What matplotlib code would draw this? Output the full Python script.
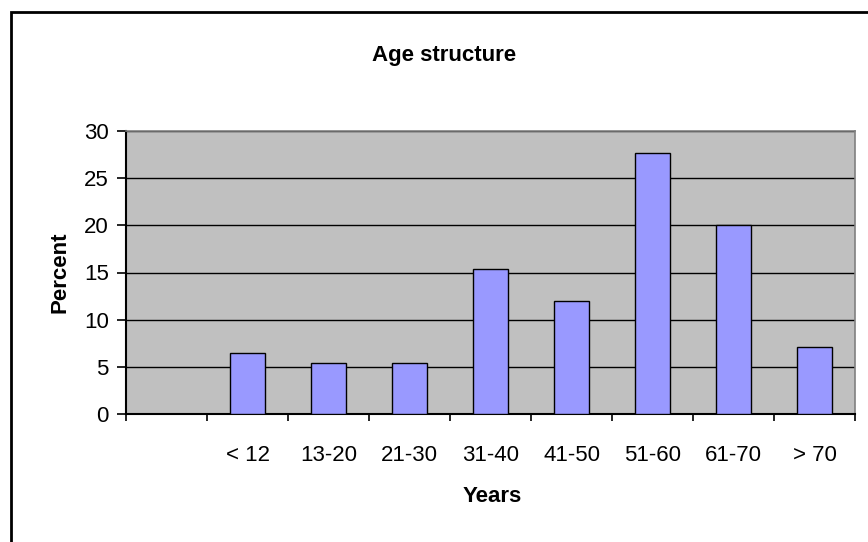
import numpy as np
import matplotlib
matplotlib.use('Agg')
import matplotlib.pyplot as plt
from matplotlib.patches import Rectangle

plt.rcParams['font.family'] = ['Liberation Sans', 'DejaVu Sans']

# first slot of the category axis is empty in the original chart
categories = ['', '< 12', '13-20', '21-30', '31-40', '41-50', '51-60', '61-70', '> 70']
percent = [None, 6.5, 5.4, 5.4, 15.4, 12.0, 27.7, 20.0, 7.1]
yticks = [0, 5, 10, 15, 20, 25, 30]

fig = plt.figure(figsize=(8.68, 5.42), dpi=100)
W, H = 868, 542

# outer chart border (cut off at right and bottom like the screenshot)
fig.patches.append(Rectangle((11 / W, -0.05), 1.1, 1 - 12 / H + 0.05, transform=fig.transFigure,
                             fill=False, edgecolor='black', linewidth=2))

ax = fig.add_axes([126 / W, 1 - 414 / H, (855 - 126) / W, (414 - 131) / H])
ax.set_facecolor('#c0c0c0')

pos = np.arange(len(categories))
xs = [p for p, v in zip(pos, percent) if v is not None]
vals = [v for v in percent if v is not None]
ax.bar(xs, vals, width=0.42, color='#9999ff', edgecolor='black', linewidth=1.0, zorder=3)

ax.set_xlim(-0.5, len(categories) - 0.5)
ax.set_ylim(0, 30)
ax.set_yticks(yticks)
ax.yaxis.grid(True, color='black', linewidth=1.0, zorder=1)
ax.set_axisbelow(True)

ax.set_xticks(pos)
ax.set_xticklabels(categories)
ax.set_xticks(np.arange(-0.5, len(categories)), minor=True)
ax.tick_params(axis='x', which='major', length=0, pad=22, labelsize=16)
ax.tick_params(axis='x', which='minor', length=5, width=1.2, color='black')
ax.tick_params(axis='y', length=6.5, width=1.2, pad=6, labelsize=16)

for s in ['top', 'right']:
    ax.spines[s].set_color('#808080')
    ax.spines[s].set_linewidth(1.2)
for s in ['left', 'bottom']:
    ax.spines[s].set_color('black')
    ax.spines[s].set_linewidth(1.5)

fig.text(444 / W, 1 - 56 / H, 'Age structure', ha='center', va='center', fontsize=16, fontweight='bold')
fig.text(492 / W, 1 - 497 / H, 'Years', ha='center', va='center', fontsize=16, fontweight='bold')
fig.text(60 / W, 1 - 272 / H, 'Percent', ha='center', va='center', rotation=90, fontsize=16, fontweight='bold')

fig.savefig('out.png', dpi=100)
